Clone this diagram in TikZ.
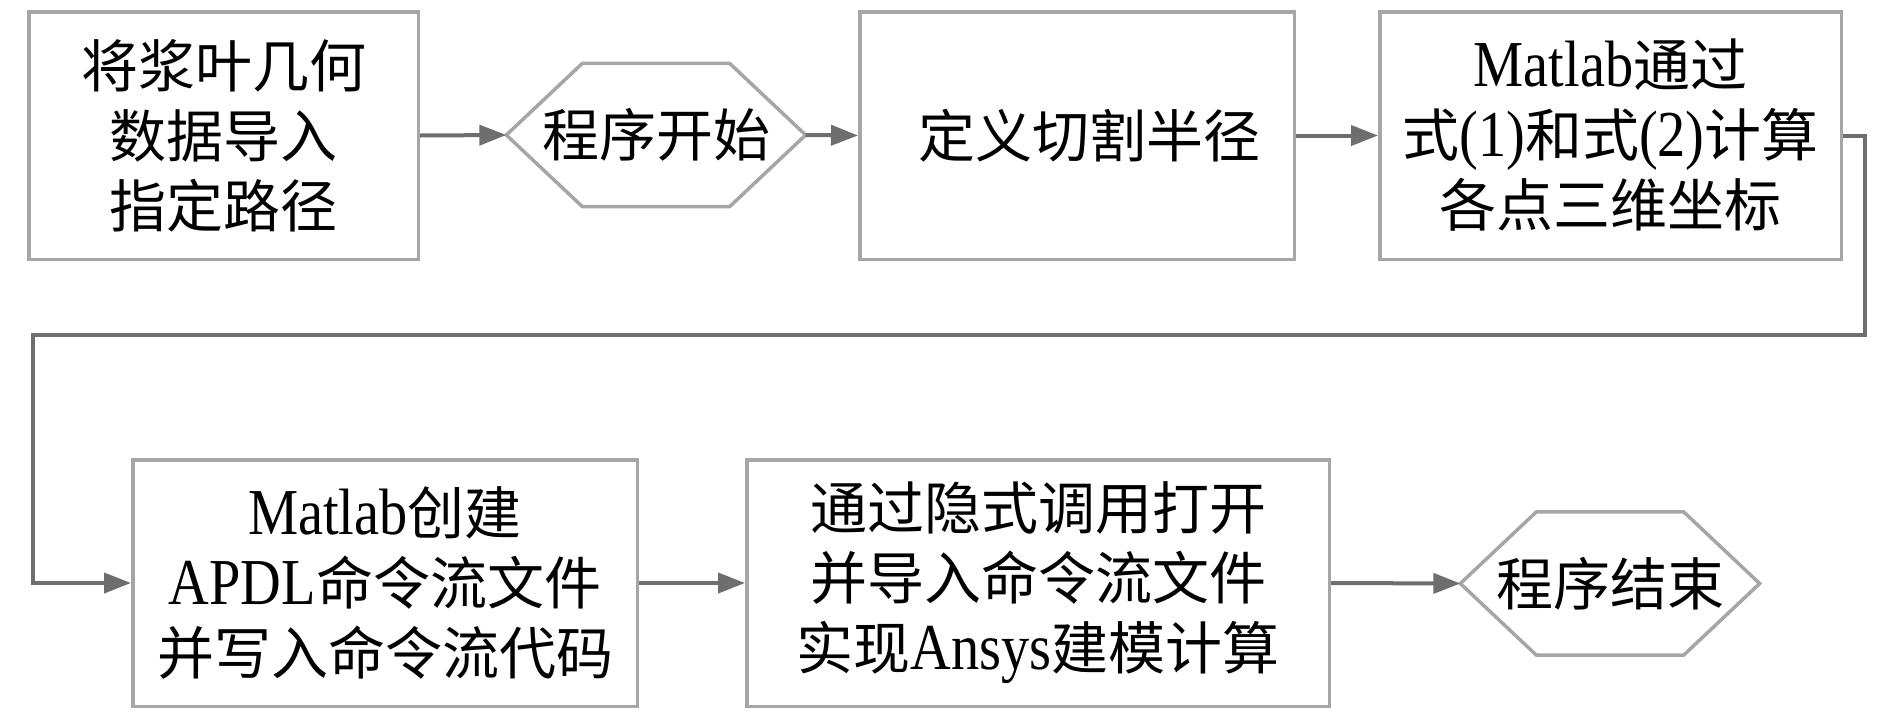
\documentclass[tikz,border=0pt]{standalone}
\usepackage{fontspec}
\setmainfont{Noto Sans CJK SC}
\newfontfamily\lat[Scale=1.15,FakeStretch=0.86]{Liberation Serif}
\usetikzlibrary{arrows.meta}
\definecolor{boxgray}{RGB}{166,166,166}
\definecolor{arrgray}{RGB}{110,110,110}
\tikzset{
  box/.style={draw=boxgray, line width=1.75pt, rectangle, inner sep=0pt,
    align=center, minimum height=123.75pt,
    font=\fontsize{28.5pt}{35pt}\selectfont},
  hexnode/.style={rectangle, inner sep=0pt, minimum width=149.25pt,
    minimum height=71.25pt, font=\fontsize{28.5pt}{35pt}\selectfont},
  hexline/.style={draw=boxgray, line width=1.75pt},
  arr/.style={draw=arrgray, line width=2pt,
    -{Triangle[length=13.5pt,width=10pt]}},
}
\begin{document}
\begin{tikzpicture}[x=0.5pt,y=-0.5pt]
\useasboundingbox (0,0) rectangle (1890,713);
% row 1
\node[box, minimum width=194.75pt] (b1) at (223.5,135.5)
  {将浆叶几何\\数据导入\\指定路径};
\node[hexnode] (h1) at (656,135) {程序开始};
\draw[hexline] (h1.west) -- ([xshift=38pt]h1.north west) -- ([xshift=-38pt]h1.north east)
  -- (h1.east) -- ([xshift=-38pt]h1.south east) -- ([xshift=38pt]h1.south west) -- cycle;
\node[box, minimum width=217.25pt] (b3) at (1077,135.5)
  {\hspace*{12pt}定义切割半径};
\node[box, minimum width=230.75pt] (b4) at (1610.5,135.5)
  {{\lat Matlab}通过\\式{\lat (1)}和式{\lat (2)}计算\\各点三维坐标};
% row 2
\node[box, minimum width=252.25pt, minimum height=123.25pt] (b5) at (385,583)
  {{\lat Matlab}创建\\{\lat APDL}命令流文件\\并写入命令流代码};
\node[box, minimum width=291.25pt, minimum height=123.25pt] (b6) at (1038,583)
  {通过隐式调用打开\\并导入命令流文件\\实现{\lat Ansys}建模计算};
\node[hexnode] (h2) at (1610,583.5) {程序结束};
\draw[hexline] (h2.west) -- ([xshift=38pt]h2.north west) -- ([xshift=-38pt]h2.north east)
  -- (h2.east) -- ([xshift=-38pt]h2.south east) -- ([xshift=38pt]h2.south west) -- cycle;
% connectors
\coordinate (c2) at (1865,335);
\coordinate (c3) at (33,335);
\draw[arr] (b1.east) -- (h1.west);
\draw[arr] (h1.east) -- (b3.west);
\draw[arr] (b3.east) -- (b4.west);
\draw[arr] (b4.east) -| (c2) -- (c3) |- (b5.west);
\draw[arr] (b5.east) -- (b6.west);
\draw[arr] (b6.east) -- (h2.west);
\end{tikzpicture}
\end{document}
